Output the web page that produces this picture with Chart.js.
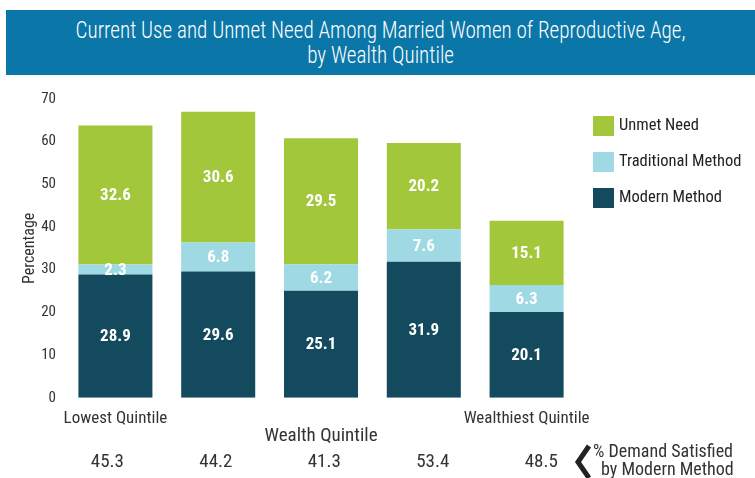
<!DOCTYPE html>
<html>
<head>
<meta charset="utf-8">
<script src="https://cdn.jsdelivr.net/npm/chart.js@4.4.0/dist/chart.umd.min.js"></script>
<style>
  html, body { margin: 0; padding: 0; background: #fff; }
  #wrap { position: relative; width: 755px; height: 478px; overflow: hidden; }
  #chart { position: absolute; left: 0; top: 0; }
  #banner {
    position: absolute; left: 6px; top: 10px; width: 749px; height: 65px;
    background: #0b76a8; color: #fff; text-align: center;
    font-family: "Roboto Condensed", sans-serif; font-weight: 300;
    font-size: 24px; line-height: 25px; padding-top: 8px; box-sizing: border-box;
  }
  #banner span { display: inline-block; transform: scaleX(0.88); transform-origin: center; }
</style>
</head>
<body>
<div id="wrap">
  <canvas id="chart" width="755" height="478"></canvas>
  <div id="banner"><span>Current Use and Unmet Need Among Married Women of Reproductive Age,<br>by Wealth Quintile</span></div>
</div>
<script>
// ---- data ----
const quintiles = ["Lowest Quintile", "Second Quintile", "Middle Quintile", "Fourth Quintile", "Wealthiest Quintile"];
const tickLabels = ["Lowest Quintile", "", "", "", "Wealthiest Quintile"];
const modernMethod = [28.9, 29.6, 25.1, 31.9, 20.1];
const traditionalMethod = [2.3, 6.8, 6.2, 7.6, 6.3];
const unmetNeed = [32.6, 30.6, 29.5, 20.2, 15.1];
const demandSatisfied = [45.3, 44.2, 41.3, 53.4, 48.5];
const yTicks = [0, 10, 20, 30, 40, 50, 60, 70];

const FONT = "'Roboto Condensed', sans-serif";
const TEXT = "#333333";

// values inside each segment
const segmentLabels = {
  id: "segmentLabels",
  afterDatasetsDraw(chart) {
    const c = chart.ctx;
    c.save();
    c.font = "bold 17px " + FONT;
    c.fillStyle = "#ffffff";
    c.textAlign = "center";
    c.textBaseline = "middle";
    chart.data.datasets.forEach((ds, di) => {
      chart.getDatasetMeta(di).data.forEach((bar, i) => {
        c.fillText(ds.data[i].toFixed(1), bar.x, (bar.y + bar.base) / 2 + 1);
      });
    });
    c.restore();
  }
};

// legend on the right, top item = last dataset
const sideLegend = {
  id: "sideLegend",
  afterDraw(chart) {
    const c = chart.ctx;
    c.save();
    c.font = "16.5px " + FONT;
    c.textBaseline = "middle";
    c.textAlign = "left";
    const items = chart.data.datasets.slice().reverse();
    items.forEach((ds, k) => {
      const y = 116 + k * 36;
      c.fillStyle = ds.backgroundColor;
      c.fillRect(593, y, 21, 20);
      c.fillStyle = "#222";
      c.fillText(ds.label, 619, y + 10);
    });
    c.restore();
  }
};

// demand satisfied row under the axis title
const demandRow = {
  id: "demandRow",
  afterDraw(chart) {
    const c = chart.ctx;
    const x = chart.scales.x;
    const step = x.width / quintiles.length * 1.055;
    c.save();
    c.font = "19px " + FONT;
    c.fillStyle = TEXT;
    c.textAlign = "center";
    c.textBaseline = "middle";
    demandSatisfied.forEach((v, i) => {
      c.fillText(v.toFixed(1), x.getPixelForValue(0) - 8 + i * step, 462);
    });
    // chevron
    c.strokeStyle = "#222";
    c.lineWidth = 5;
    c.beginPath();
    c.moveTo(589, 446);
    c.lineTo(578, 462);
    c.lineTo(589, 478);
    c.stroke();
    c.font = "18px " + FONT;
    c.textAlign = "left";
    c.fillText("% Demand Satisfied", 593, 452);
    c.fillText("by Modern Method", 601, 470);
    c.restore();
  }
};

new Chart(document.getElementById("chart"), {
  type: "bar",
  data: {
    labels: quintiles,
    datasets: [
      { label: "Modern Method", data: modernMethod, backgroundColor: "#134a5e" },
      { label: "Traditional Method", data: traditionalMethod, backgroundColor: "#9fd9e3" },
      { label: "Unmet Need", data: unmetNeed, backgroundColor: "#a2c73b" }
    ]
  },
  options: {
    responsive: false,
    animation: false,
    layout: { padding: { top: 99, left: 20, right: 177, bottom: 30 } },
    datasets: { bar: { barPercentage: 0.72, categoryPercentage: 1 } },
    plugins: {
      legend: { display: false },
      tooltip: { enabled: false }
    },
    scales: {
      x: {
        stacked: true,
        grid: { display: false },
        border: { display: false },
        ticks: {
          color: TEXT, font: { family: FONT, size: 17 }, padding: 3,
          maxRotation: 0, autoSkip: false,
          callback: (v, i) => tickLabels[i]
        },
        title: { display: true, text: "Wealth Quintile", color: TEXT, font: { family: FONT, size: 19 }, padding: { top: -7, bottom: 0 } }
      },
      y: {
        stacked: true,
        min: 0, max: 70,
        grid: { display: false },
        border: { display: false },
        afterBuildTicks: (axis) => { axis.ticks = yTicks.map(v => ({ value: v })); },
        ticks: { color: TEXT, font: { family: FONT, size: 15 }, padding: 0 },
        title: { display: true, text: "Percentage", color: TEXT, font: { family: FONT, size: 16 }, padding: { top: 0, bottom: 2 } }
      }
    }
  },
  plugins: [segmentLabels, sideLegend, demandRow]
});
</script>
</body>
</html>
